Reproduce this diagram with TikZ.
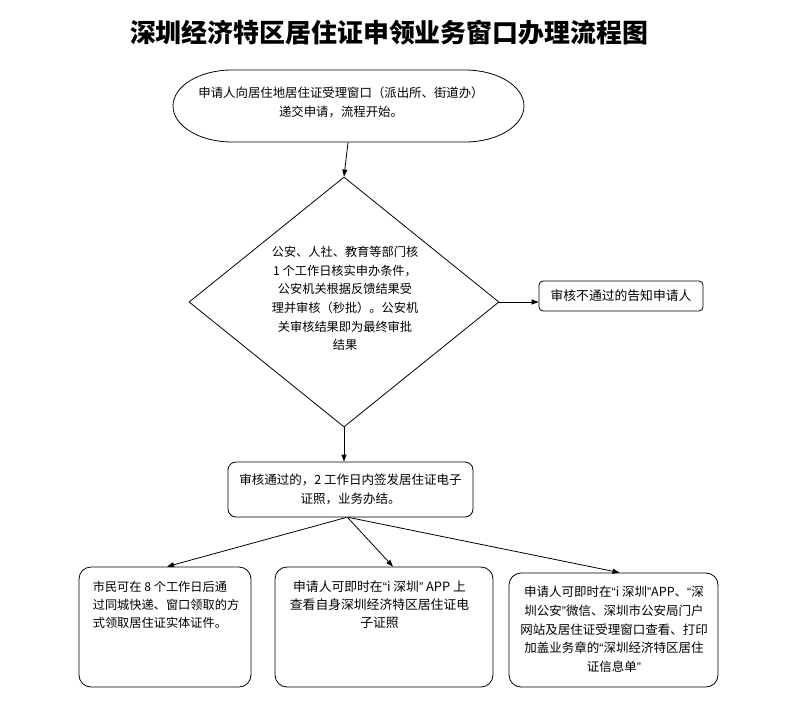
\documentclass[tikz,border=0pt]{standalone}
\usepackage{fontspec}
\setmainfont{Noto Sans CJK SC}
\newfontfamily\latq{Liberation Sans}
\newcommand{\myLq}{{\latq “}}
\newcommand{\myRq}{{\latq ”}}
\usetikzlibrary{shapes.geometric,arrows.meta}
\begin{document}
\begin{tikzpicture}[x=1pt,y=-1pt,
  line width=0.8pt,
  arr/.style={-{Triangle[length=7pt,width=5pt]}},
  rbox/.style={draw, rounded corners=#1, inner sep=0pt},
  txt/.style={inner sep=0pt, align=center, font=\fontsize{12.5}{18.6}\selectfont},
  ghost/.style={inner sep=0pt}
]
\useasboundingbox[fill=white] (0,0) rectangle (787,715);

% title
\node[font=\bfseries\fontsize{25.9}{30}\selectfont, inner sep=0pt] (title) at (389,33) {深圳经济特区居住证申领业务窗口办理流程图};

% start (stadium with elliptical ends)
\draw (232,70) -- (465,70) arc[start angle=-90, end angle=90, x radius=59, y radius=36]
      -- (232,142) arc[start angle=90, end angle=270, x radius=59, y radius=36] -- cycle;
\node[ghost, minimum width=351pt, minimum height=72pt] (start) at (348,106) {};
\node[txt, font=\fontsize{12.4}{19}\selectfont] (starttext) at (341,102.5)
  {申请人向居住地居住证受理窗口（派出所、街道办）\\递交申请，流程开始。};

% diamond
\node[draw, diamond, inner sep=0pt, minimum width=310pt, minimum height=250pt] (dia) at (344,302) {};
\node[txt, font=\fontsize{12.2}{18.6}\selectfont] (diatext) at (345,298.5)
  {公安、人社、教育等部门核\\1 个工作日核实申办条件，\\公安机关根据反馈结果受\\理并审核（秒批）。公安机\\关审核结果即为最终审批\\结果};

% fail box
\node[rbox=4pt, minimum width=164pt, minimum height=30pt, font=\fontsize{12.8}{15}\selectfont] (fail) at (621,296) {审核不通过的告知申请人};

% middle box
\node[rbox=8pt, minimum width=245pt, minimum height=55pt, txt] (mid) at (350.5,489.5)
  {审核通过的，2 工作日内签发居住证电子\\证照，业务办结。};

% bottom boxes
\node[rbox=12pt, minimum width=172pt, minimum height=120pt] (b1) at (165,627) {};
\node[rbox=12pt, minimum width=218pt, minimum height=120pt] (b2) at (384,627) {};
\node[rbox=12pt, minimum width=209pt, minimum height=114pt] (b3) at (613.5,630) {};

\node[txt, align=left, font=\fontsize{12.2}{18}\selectfont] (b1t) at (166,605)
  {市民可在 8 个工作日后通\\过同城快递、窗口领取的方\\式领取居住证实体证件。};
\node[txt, font=\fontsize{12.8}{18}\selectfont] (b2t) at (379.5,605)
  {申请人可即时在\myLq i 深圳\myRq\ APP 上\\查看自身深圳经济特区居住证电\\子证照};
\node[txt, font=\fontsize{12.5}{18.7}\selectfont] (b3t) at (614,629.5)
  {申请人可即时在\myLq i 深圳\myRq APP、\myLq 深\\圳公安\myRq 微信、深圳市公安局门户\\网站及居住证受理窗口查看、打印\\加盖业务章的\myLq 深圳经济特区居住\\证信息单\myRq};

% connectors
\draw[arr] (start.south) -- (dia.north);
\draw[arr] (dia.east) -- (dia.east -| fail.west);
\draw[arr] (dia.south) -- (dia.south |- mid.north);
\draw[arr] ([xshift=-4pt]mid.south) -- ([xshift=2pt]b1.north);
\draw[arr] ([xshift=-3pt]mid.south) -- ([xshift=9pt]b2.north);
\draw[arr] ([xshift=-2pt]mid.south) -- ([xshift=6pt]b3.north);
\end{tikzpicture}
\end{document}
